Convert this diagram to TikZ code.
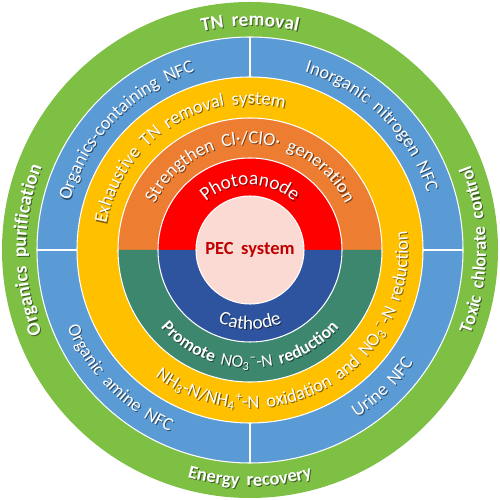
\documentclass[tikz,border=0pt]{standalone}
\usepackage{fontspec}
\setmainfont{Carlito}[WordSpace=1.8]
\usetikzlibrary{decorations.text}
\definecolor{cgreen}{RGB}{125,192,68}
\definecolor{cblue}{RGB}{91,155,213}
\definecolor{cyellow}{RGB}{255,192,0}
\definecolor{corange}{RGB}{237,125,49}
\definecolor{cred}{RGB}{255,0,0}
\definecolor{cpink}{RGB}{250,218,210}
\definecolor{cdblue}{RGB}{46,84,160}
\definecolor{cteal}{RGB}{60,135,110}
\definecolor{cpec}{RGB}{192,0,0}
\newcommand\ringtext[5]{%
  \begin{scope}[opacity=0.5,xshift=0.6pt,yshift=-0.6pt]
  \path[decorate,decoration={text along path,text align=center,text color=black,
     text={|#4|#5}}] (#2:#1) arc[start angle=#2,end angle=#3,radius=#1];
  \end{scope}
  \path[decorate,decoration={text along path,text align=center,text color=white,
     text={|#4|#5}}] (#2:#1) arc[start angle=#2,end angle=#3,radius=#1];
}
\tikzset{ringline/.style={white,line width=0.6pt}}
\begin{document}
\begin{tikzpicture}
\useasboundingbox (-5,-5) rectangle (5,5);
\fill[cgreen] (0,0) circle (4.96);
\fill[cblue] (0,0) circle (4.26);
\draw[ringline] (0,0) circle (4.26);
\foreach \a in {0,90,180,270} \draw[ringline] (\a:3.46) -- (\a:4.26);
\fill[cyellow] (0,0) circle (3.46);
\draw[ringline] (0,0) circle (3.46);
\fill[corange] (0:2.64) arc[start angle=0,end angle=180,radius=2.64] -- cycle;
\fill[cteal] (180:2.64) arc[start angle=180,end angle=360,radius=2.64] -- cycle;
\draw[ringline] (0,0) circle (2.64);
\fill[cred] (0:1.84) arc[start angle=0,end angle=180,radius=1.84] -- cycle;
\fill[cdblue] (180:1.84) arc[start angle=180,end angle=360,radius=1.84] -- cycle;
\draw[ringline] (0,0) circle (1.84);
\fill[cpink] (0,0) circle (1.08);
\draw[ringline] (0,0) circle (1.08);
% green ring
\ringtext{4.48}{130}{50}{\fontsize{11}{13}\selectfont\bfseries}{TN removal}
\ringtext{4.72}{230}{310}{\fontsize{10.5}{13}\selectfont\bfseries}{Energy recovery}
\ringtext{4.48}{225}{135}{\fontsize{11}{13}\selectfont\bfseries}{Organics purification}
\ringtext{4.72}{-45}{45}{\fontsize{10.5}{13}\selectfont\bfseries}{Toxic chlorate control}
% blue ring
\ringtext{3.73}{176}{96}{\fontsize{10.5}{12}\selectfont}{Organics-containing NFC}
\ringtext{3.73}{85}{6}{\fontsize{10.5}{12}\selectfont}{Inorganic nitrogen NFC}
\ringtext{3.97}{184}{265}{\fontsize{10.5}{12}\selectfont}{Organic amine NFC}
\ringtext{3.97}{284}{344}{\fontsize{10.5}{12}\selectfont}{Urine NFC}
% yellow ring
\ringtext{2.92}{183}{63}{\fontsize{10.5}{12}\selectfont}{Exhaustive TN removal system}
\ringtext{3.16}{220}{380}{\fontsize{10.5}{12}\selectfont}{NH{\textsubscript{3}}-N/NH{\textsubscript{4}\textsuperscript{+}}-N oxidation and NO{\textsubscript{3}\textsuperscript{−}}-N reduction}
% orange / teal
\ringtext{2.12}{170}{10}{\fontsize{10.5}{12}\selectfont}{Strengthen Cl·/ClO· generation}
\ringtext{2.36}{195}{345}{\fontsize{11}{13}\selectfont}{|\bfseries|Promote|\mdseries| NO{\textsubscript{3}\textsuperscript{−}}-N |\bfseries|reduction}
% red / dark blue
\ringtext{1.30}{150}{30}{\fontsize{11}{13}\selectfont}{Photoanode}
\ringtext{1.59}{220}{320}{\fontsize{11}{13}\selectfont}{Cathode}
\node (pec) [text=cpec,font=\fontsize{10.5}{13}\selectfont\bfseries] at (0,0) {PEC system};
\end{tikzpicture}
\end{document}
